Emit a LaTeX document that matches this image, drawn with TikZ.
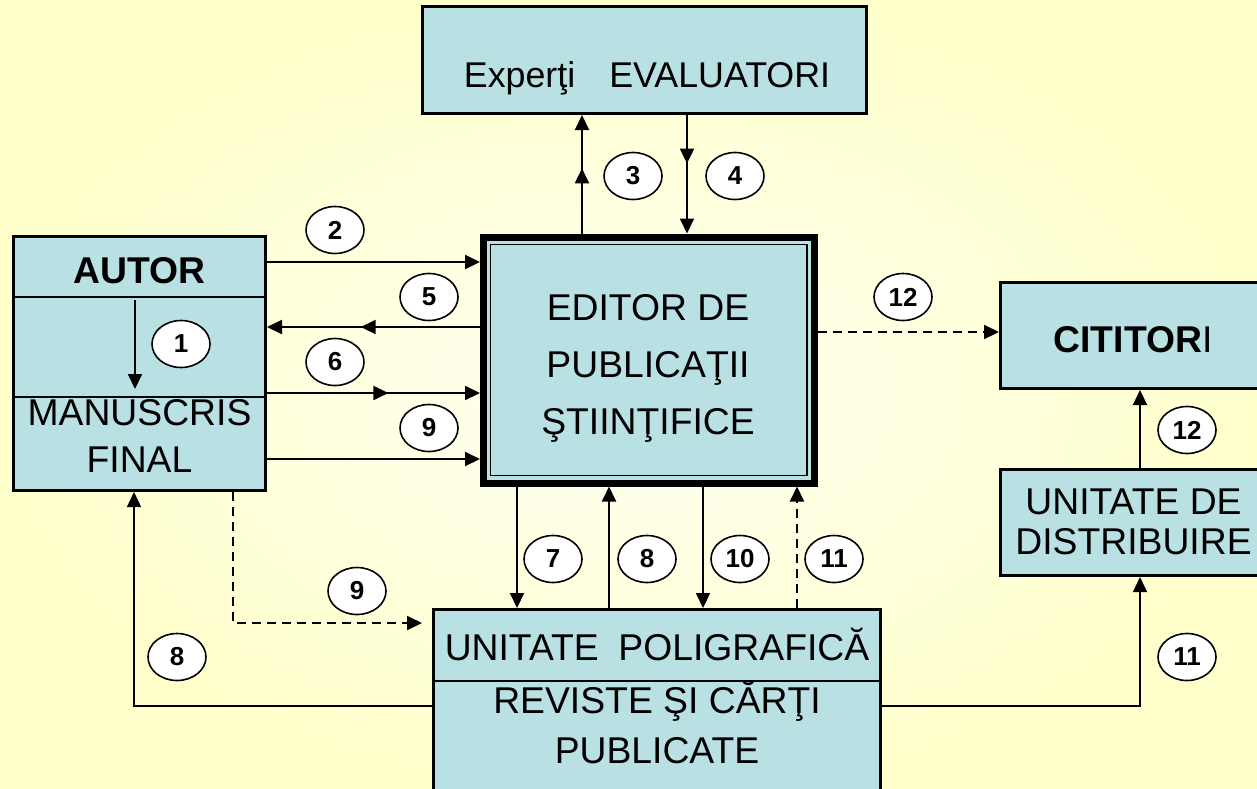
\documentclass[tikz,border=0pt]{standalone}
\usepackage{fontspec}
\setmainfont{Liberation Sans}
\usetikzlibrary{arrows.meta,shapes.geometric,decorations.markings}
\definecolor{boxteal}{RGB}{185,224,227}
\definecolor{bgyellow}{RGB}{255,255,204}
\definecolor{bglight}{RGB}{255,255,243}
\newcommand{\bigfont}[1]{\fontsize{37.3}{#1}\selectfont}

\begin{document}
\begin{tikzpicture}[x=1pt,y=-1pt,>={Triangle[length=15pt,width=14pt]},
    box/.style={draw,line width=3pt,fill=boxteal,inner sep=0pt},
    txt/.style={inner sep=0pt,align=center},
    num/.style={ellipse,draw,fill=white,line width=1.6pt,minimum width=58pt,minimum height=47pt,inner sep=0pt,font=\bfseries\fontsize{26}{26}\selectfont},
    flow/.style={->,line width=2pt},
    dflow/.style={flow,dash pattern=on 9pt off 6pt},
    midarrow/.style={postaction={decorate},decoration={markings,mark=at position #1 with {\arrow{>}}}}]

\useasboundingbox (0,0) rectangle (1257,788);
\shade[inner color=bglight,outer color=bgyellow] (0,0) rectangle (1257,788);
\clip (0,0) rectangle (1257,788);

% boxes
\node[box,minimum width=444pt,minimum height=107pt] (expert) at (644.5,60) {};
\node[box,line width=7pt,minimum width=330.5pt,minimum height=246pt] (editor) at (648.75,360) {};
\draw[line width=1.5pt] ([shift={(10.5,11)}]editor.north west) rectangle ([shift={(-10.5,-11)}]editor.south east);
\node[box,minimum width=252pt,minimum height=254pt] (autor) at (139.5,363.5) {};
\node[box,minimum width=447pt,minimum height=250pt] (poly) at (657,734.5) {};
\node[box,minimum width=266pt,minimum height=106pt] (distrib) at (1133.5,522.5) {};
\node[box,minimum width=266pt,minimum height=106pt] (citit) at (1133.5,335.5) {};
\draw[line width=1.5pt] (autor.west |- 0,297) -- (autor.east |- 0,297)
                        (autor.west |- 0,397) -- (autor.east |- 0,397);
\draw[line width=2pt] (poly.west |- 0,681) -- (poly.east |- 0,681);

% texts
\node[txt,anchor=base,font=\fontsize{35.8}{40}\selectfont] (experttxt) at (647,87) {Experţi\hspace{0.95em}EVALUATORI};
\node[txt,font=\bigfont{57}] (editortxt) at (648,368) {EDITOR DE\\PUBLICAŢII\\ŞTIINŢIFICE};
\node[txt,anchor=base,font=\bfseries\bigfont{40}] (autortxt) at (139.5,283) {AUTOR};
\node[txt,font=\bigfont{47}] (manustxt) at (139.5,435.6) {MANUSCRIS\\FINAL};
\node[txt,anchor=base,font=\bigfont{40}] (polytxt) at (657,660) {UNITATE\hspace{0.25em} POLIGRAFICĂ};
\node[txt,font=\bigfont{50}] (revtxt) at (657,722) {REVISTE ŞI CĂRŢI\\PUBLICATE};
\node[txt,font=\bigfont{40}] (distribtxt) at (1133.5,522.1) {UNITATE DE\\DISTRIBUIRE};
\node[txt,anchor=base,font=\bigfont{40}] (cittxt) at (1133,352) {\textbf{CITITOR}I};

% step numbers
\node[num] (n1) at (181,344) {1};
\node[num] (n2) at (335,230) {2};
\node[num] (n3) at (633,176) {3};
\node[num] (n4) at (735,176) {4};
\node[num] (n5) at (429,297) {5};
\node[num] (n6) at (335,362) {6};
\node[num] (n9a) at (429,428) {9};
\node[num] (n7) at (553,559) {7};
\node[num] (n8a) at (647,559) {8};
\node[num] (n10) at (740,559) {10};
\node[num] (n11a) at (834,559) {11};
\node[num] (n9b) at (357,591) {9};
\node[num] (n8b) at (177,657) {8};
\node[num] (n12a) at (903,297) {12};
\node[num] (n12b) at (1187,430) {12};
\node[num] (n11b) at (1187,657) {11};

% connectors
\draw[flow] (135,300) -- (135,389); % 1
\draw[flow] (autor.east |- 0,262) -- (editor.west |- 0,262); % 2
\draw[flow,midarrow=0.56] (editor.west |- 0,327) -- (autor.east |- 0,327); % 5
\draw[flow,midarrow=0.57] (autor.east |- 0,393) -- (editor.west |- 0,393); % 6
\draw[flow] (autor.east |- 0,459) -- (editor.west |- 0,459); % 9
\draw[flow,midarrow=0.55] (editor.north -| 582,0) -- (expert.south -| 582,0); % 3
\draw[flow,midarrow=0.41] (expert.south -| 687,0) -- (editor.north -| 687,0); % 4
\draw[flow] (editor.south -| 517,0) -- (poly.north -| 517,0); % 7
\draw[flow] (poly.north -| 609,0) -- (editor.south -| 609,0); % 8
\draw[flow] (editor.south -| 703,0) -- (poly.north -| 703,0); % 10
\draw[dflow] (poly.north -| 797,0) -- (editor.south -| 797,0); % 11
\draw[dflow] (editor.east |- 0,332) -- (citit.west |- 0,332); % 12
\draw[flow] (distrib.north -| 1140,0) -- (citit.south -| 1140,0); % 12
\draw[flow,line width=1.5pt] (poly.west |- 0,706) -| (autor.south -| 134,0); % 8
\draw[flow,line width=1.5pt] (poly.east |- 0,706) -| (distrib.south -| 1140,0); % 11
\draw[dflow,shorten >=10pt] (autor.south -| 233,0) |- (poly.west |- 0,623); % 9
\end{tikzpicture}
\end{document}
